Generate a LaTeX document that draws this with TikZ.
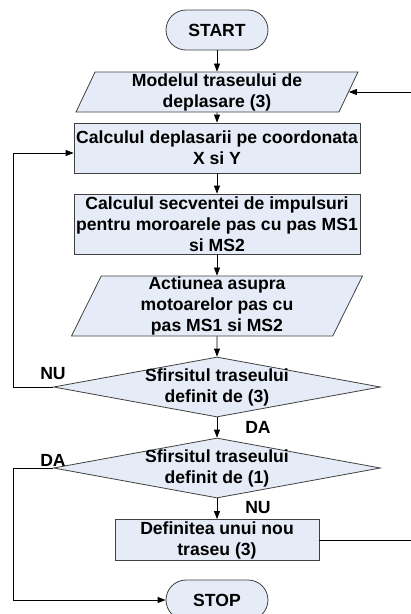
\documentclass[tikz,border=0pt]{standalone}
\usepackage{fontspec}
\setmainfont{Liberation Sans}
\usetikzlibrary{shapes.geometric,arrows.meta}
\definecolor{boxfill}{HTML}{E6ECF7}
\definecolor{boxline}{HTML}{404040}
\tikzset{
  base/.style={draw=boxline, fill=boxfill, line width=0.8pt, font=\fontsize{17.6}{21}\selectfont\bfseries, align=center, inner sep=0pt},
  term/.style={base, rectangle, rounded corners=20pt, minimum width=102pt, minimum height=40pt},
  proc/.style={base, rectangle},
  io/.style={base, trapezium, trapezium left angle=63, trapezium right angle=117, trapezium stretches body},
  decis/.style={base, diamond, minimum width=327pt, minimum height=60pt, aspect=5.45},
  flow/.style={-{Triangle[length=8pt,width=6pt]}, line width=0.8pt},
  tag/.style={font=\fontsize{17.6}{21}\selectfont\bfseries, align=center}
}
\begin{document}
\begin{tikzpicture}[x=1pt,y=-1pt]
\useasboundingbox (0,0) rectangle (411,614);
\node[term] (start) at (217,30) {START};
\node[io, minimum width=282pt, minimum height=40pt] (model) at (217,92) {Modelul traseului de\\deplasare (3)};
\node[proc, minimum width=286pt, minimum height=50pt] (depl) at (217,148) {Calculul deplasarii pe coordonata\\X si Y};
\node[proc, minimum width=286pt, minimum height=60pt] (secv) at (217,224) {Calculul secventei de impulsuri\\pentru moroarele pas cu pas MS1\\si MS2};
\node[io, minimum width=291pt, minimum height=60pt] (act) at (217,306) {Actiunea asupra\\motoarelor pas cu\\pas MS1 si MS2};
\node[decis, label={[tag]center:Sfirsitul traseului\\definit de (3)}] (dec1) at (217,387) {};
\node[decis, label={[tag]center:Sfirsitul traseului\\definit de (1)}] (dec2) at (217,468) {};
\node[proc, minimum width=204pt, minimum height=41pt] (def) at (217,540) {Definitea unui nou\\traseu (3)};
\node[term] (stop) at (217,600) {STOP};
\node[tag] (nu1) at (53,374) {NU};
\node[tag] (da1) at (258,427) {DA};
\node[tag] (da2) at (53,460) {DA};
\node[tag] (nu2) at (258,508) {NU};
\coordinate (lft) at (13,0);
\coordinate (rgt) at (413,0);
\draw[flow] (start) -- (model);
\draw[flow] (model) -- (depl);
\draw[flow] (depl) -- (secv);
\draw[flow] (secv) -- (act);
\draw[flow] (act) -- (dec1);
\draw[flow] (dec1) -- (dec2);
\draw[flow] (dec2) -- (def);
\draw[flow] (dec1.west) -- (dec1.west -| lft) |- ([yshift=-5pt]depl.west);
\draw[flow] (dec2.west) -- (dec2.west -| lft) |- (stop.west);
\draw[flow] (def.east) -- (def.east -| rgt) |- (model.east);
\end{tikzpicture}
\end{document}
